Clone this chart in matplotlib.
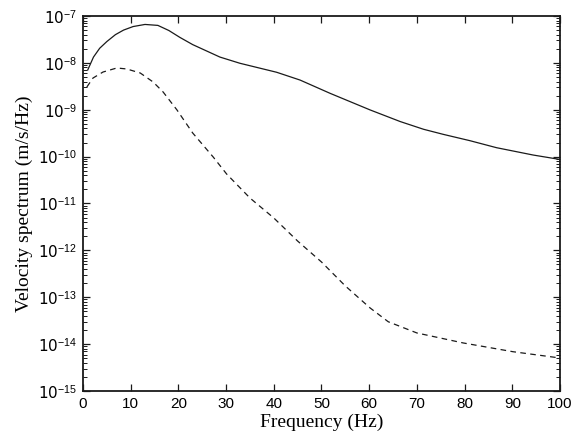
import matplotlib
matplotlib.use("Agg")
import matplotlib.pyplot as plt
from matplotlib.ticker import LogLocator, NullFormatter

plt.rcParams['mathtext.fontset'] = 'custom'
plt.rcParams['mathtext.rm'] = 'Liberation Sans'
plt.rcParams['mathtext.it'] = 'Liberation Sans:italic'
plt.rcParams['mathtext.bf'] = 'Liberation Sans:bold'

# solid curve
freq_solid = [1.0, 2.2, 3.5, 5.0, 6.8, 8.5, 10.5, 13.0, 15.7, 18.0, 20.3, 23.0,
              28.7, 32.9, 40.6, 45.5, 51.8, 60.2, 66.5, 71.4, 75.5, 81.1, 86.7,
              94.4, 100.0]
vel_solid = [7.08e-9, 1.33e-8, 2.05e-8, 2.85e-8, 4.0e-8, 5.0e-8, 5.95e-8, 6.6e-8,
             6.3e-8, 4.9e-8, 3.50e-8, 2.45e-8, 1.33e-8, 9.8e-9, 6.3e-9, 4.3e-9,
             2.24e-9, 9.9e-10, 5.6e-10, 3.83e-10, 2.99e-10, 2.19e-10, 1.55e-10,
             1.08e-10, 8.7e-11]

# dashed curve
freq_dash = [0.8, 2.1, 4.2, 7.1, 9.2, 12.0, 14.7, 16.8, 19.7, 23.0, 27.3, 30.1,
             35.0, 40.0, 45.0, 50.0, 55.0, 60.2, 64.0, 70.0, 79.7, 90.1, 100.0]
vel_dash = [3.05e-9, 4.75e-9, 6.38e-9, 7.78e-9, 7.40e-9, 6.08e-9, 3.91e-9,
            2.39e-9, 9.9e-10, 3.19e-10, 9.8e-11, 4.27e-11, 1.31e-11, 4.91e-12,
            1.58e-12, 5.65e-13, 1.74e-13, 5.9e-14, 3.0e-14, 1.73e-14, 1.06e-14,
            6.9e-15, 5.06e-15]

xticks = [0, 10, 20, 30, 40, 50, 60, 70, 80, 90, 100]
yticks = [1e-15, 1e-14, 1e-13, 1e-12, 1e-11, 1e-10, 1e-9, 1e-8, 1e-7]
ytick_labels = ['10$^{-15}$', '10$^{-14}$', '10$^{-13}$', '10$^{-12}$', '10$^{-11}$',
                '10$^{-10}$', '10$^{-9}$', '10$^{-8}$', '10$^{-7}$']

fig = plt.figure(figsize=(5.72, 4.38), dpi=100)
ax = fig.add_axes([0.1451, 0.1073, 0.8339, 0.8562])

ax.plot(freq_solid, vel_solid, color='#1a1a1a', lw=0.9)
ax.plot(freq_dash, vel_dash, color='#1a1a1a', lw=0.9, linestyle=(0, (4.5, 3.5)))

ax.set_yscale('log')
ax.set_xlim(0, 100)
ax.set_ylim(1e-15, 1e-7)
ax.set_xticks(xticks)
ax.set_xticklabels([str(t) for t in xticks], family='Liberation Sans', fontsize=11)
ax.set_yticks(yticks)
ax.set_yticklabels(ytick_labels, fontsize=11)
ax.yaxis.set_minor_locator(LogLocator(base=10, subs=range(2, 10), numticks=20))
ax.yaxis.set_minor_formatter(NullFormatter())

ax.tick_params(which='both', direction='in', top=True, right=True, color='#1a1a1a')
ax.tick_params(which='major', length=5, width=0.9, pad=4)
ax.tick_params(which='minor', length=3, width=0.7)
for s in ax.spines.values():
    s.set_linewidth(1.3)
    s.set_color('#1a1a1a')

ax.set_xlabel('Frequency (Hz)', family='Liberation Serif', fontsize=14, labelpad=2)
ax.set_ylabel('Velocity spectrum (m/s/Hz)', family='Liberation Serif', fontsize=14, labelpad=4)

fig.savefig('out.png', dpi=100)
